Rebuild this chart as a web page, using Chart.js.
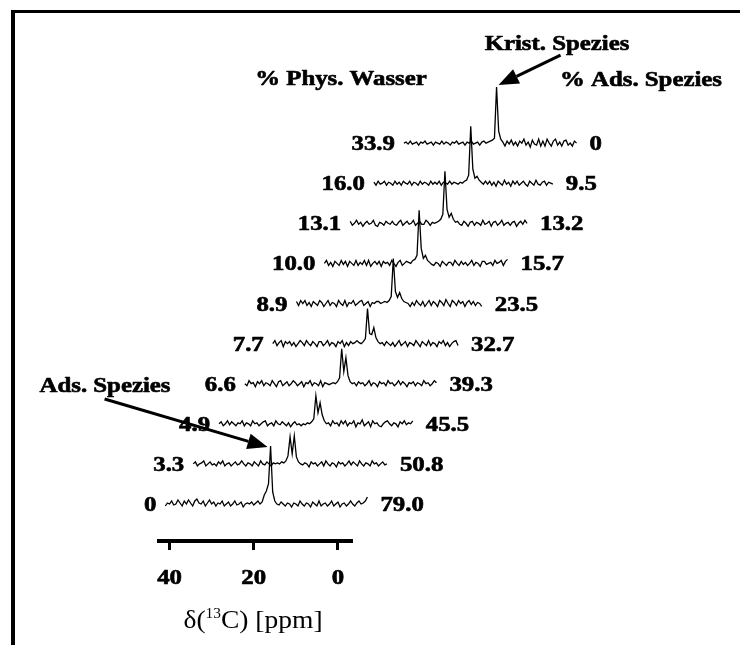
<!DOCTYPE html>
<html>
<head>
<meta charset="utf-8">
<script src="https://cdn.jsdelivr.net/npm/chart.js@4/dist/chart.umd.min.js"></script>
<style>
  html, body { margin: 0; padding: 0; background: #fff; }
  #wrap { position: relative; width: 740px; height: 645px; }
  #frame { position: absolute; left: 11px; top: 10px; right: 0; bottom: 0;
           border-top: 3px solid #000; border-left: 4px solid #000; pointer-events: none; }
</style>
</head>
<body>
<div id="wrap"><canvas id="c"></canvas><div id="frame"></div></div>
<script>
// 13C MAS NMR spectra, stacked from top (most physisorbed water) to bottom.
const waterPct = ['33.9', '16.0', '13.1', '10.0', '8.9', '7.7', '6.6', '4.9', '3.3', '0'];
const adsPct   = ['0', '9.5', '13.2', '15.7', '23.5', '32.7', '39.3', '45.5', '50.8', '79.0'];

// first chemical shift of each spectrum (ppm); points follow every 0.5 ppm towards high field
const startPpm = [39.5, 40.5, 40.0, 40.0, 40.5, 40.0, 40.5, 40.5, 40.5, 41.0];
const PPM_STEP = 0.5;

// intensities (arbitrary units)
const spec_w339 = [0,1,-1,2,-1,0,1,-2,1,0, 2,-1,0,1,-2,1,0,-1,2,-1, 1,0,-2,1,0,2,-1,0,1,-2, 1,0,2,-1,0,1,-2,1,2,0,
  1,2,3,5,56,12,4,1,-3,2,
  -1,3,-2,1,-3,2,0,4,-2,1, -4,3,-1,-2,4,-3,2,-3,4,0, -3,2,4,-2,1,-3,2,3,-2,0, -3,2,0];
const spec_w160 = [1,-2,2,-1,0,2,-2,1,0,-2, 2,-1,1,-2,2,0,-1,2,-2,1, 0,-2,2,-1,1,0,-2,2,-1,1, -1,2,-2,1,0,-1,2,-1,1,0,
  -1,1,0,2,3,8,57,14,5,7,3,1,-1,
  2,-1,2,-2,1,-3,2,0,-2,3, -1,1,-3,2,-1,2,-2,0,2,-1, -3,2,0,-2,3,-1,-2,1,2,-2, 1,0,-1];
const spec_w131 = [2,-2,0,3,-1,1,-3,0,2,-1, 0,3,-2,-3,1,0,-2,2,0,-1, 2,-1,-2,1,3,-2,0,2,-1,0, 3,-2,0,2,-1,-1,3,1,-2,1,
  0,1,2,4,9,52,14,6,10,4,1,2,
  -1,-2,2,0,-3,1,2,-2, 1,0,-2,3,-1,0,2,-3,1,2, -2,0,3,-2,0,1,-2,1,2,-3, 0,2,-1,3,0];
const spec_w100 = [0,3,-2,1,-3,2,0,-2,3,-1, 2,-3,2,0,-2,3,-2,1,-1,3, -2,3,-3,0,2,-1,2,-3,2,0, 1,-2,3,0,-3,1,3,-2,0,2,
  1,0,3,4,8,53,15,5,8,3,1,-1,
  -2,1,0,-3,2,0,-2,1, 1,-2,3,0,-2,2,-1,1,-2,0, 3,-2,1,0,-3,2,2,-1,0,1, -2,3,0,1,3,-2,2,4];
const spec_w89 = [2,-2,3,0,3,-2,1,-3,2,0, -2,3,1,-3,0,3,-2,1,0,-3, 3,0,-2,3,-3,1,0,3,-2,0, 2,3,-2,0,2,-3,1,0,2,2,
  0,1,2,1,3,7,45,12,6,11,5,2,1,
  0,-3,1,-2,3,0,-2, 2,-3,0,3,-2,2,0,-3,3,1, -2,4,0,-3,3,1,-2,3,0,2, -3,1,3,-1,2,-2,1,0,-3];
const spec_w77 = [0,3,-2,1,3,-3,2,0,2,-2, 1,-3,0,3,1,-2,3,0,-2,2, 0,-3,2,2,-2,0,3,-2,1,0, -3,2,0,3,-3,1,-2,2,0,1,
  3,1,0,2,5,35,10,9,16,6,2,0,
  1,-2,2,0,-2,1,-3,0, 3,-2,0,2,-3,1,0,-2,3,0, -3,2,0,-2,3,-2,1,0,-3,2, 0,3,-2,1,-3,0,2,3,-2];
const spec_w66 = [0,-2,3,0,1,-3,2,0,3,-2, 1,0,-2,3,0,-3,2,3,-2,0, 2,-2,0,3,1,-2,0,2,-3,1, 0,3,-2,1,0,-2,3,-3,1,0,
  -1,0,1,0,2,6,35,12,26,8,2,0,1,
  -2,2,0,1,-2,0,3, -2,1,0,-3,2,0,1,-2,3,0, 1,-2,0,3,-1,2,0,-3,1,0, 2,-2,1,0,-2,3,0,1,-2,0,3,1];
const spec_w49 = [0,2,-2,0,3,-1,2,0,-2,1, 0,3,-2,1,0,-2,3,0,1,-2, 0,2,3,-2,0,1,-2,3,0,-1, 2,0,-2,1,-3,0,2,-1,0,-2,
  0,-1,1,0,2,5,28,11,21,9,3,0,1,
  -2,3,0,1,-2,3,0, 3,-2,1,0,3,-3,1,0,4,-2, 0,2,-3,3,0,1,-2,-3,0,2, 3,0,-2,1,0,-3,2,0,3,-1,1,0,3];
const spec_w33 = [0,2,-2,0,1,3,-2,0,2,-1, 0,-2,2,0,3,-2,0,1,-2,0, 2,-1,0,3,0,-2,1,0,-2,2, 0,-2,3,0,-1,2,0,-2,1,0,
  1,0,2,1,3,8,27,10,28,7,2,0,-1,
  1,0,-3,2,0,1,-2, 0,2,-2,3,0,-2,1,0,-3,2, 0,1,-2,0,3,-1,2,0,-2,3, 0,-2,1,0,-2,3,0,1,-2,0,2,-1,0];
const spec_w0 = [-2,1,0,3,-1,0,4,1,-2,3, 0,4,1,-2,3,5,1,0,3,-2, 1,4,0,2,-2,1,0,3,-2,0, 2,-2,0,3,-1,0,2,-3,0,1,
  0,2,-1,1,3,0,2,9,13,20,58,12,3,0,-1,2,
  0,-2,1,0, -3,1,0,-2,3,0,-2,1,0,-3, 2,0,-2,3,-2,0,1,-2,0,3, -2,0,2,-3,0,1,-2,0,3,0, -2,1,3,0,1,3,7];

const spectra = [spec_w339, spec_w160, spec_w131, spec_w100, spec_w89, spec_w77, spec_w66, spec_w49, spec_w33, spec_w0];

// chemical-shift axis
const xTicks = [40, 20, 0];
const xMin = -3.1, xMax = 42.5;

// waterfall offsets per step, counted from the bottom trace
const STACK_DX_PPM = 6.13;
const STACK_DY = 40.1;

const n = spectra.length;
const datasets = spectra.map((vals, t) => {
  const k = n - 1 - t;
  return {
    data: vals.map((v, i) => ({ x: startPpm[t] - i * PPM_STEP - k * STACK_DX_PPM, y: v + k * STACK_DY })),
    borderColor: '#000', borderWidth: 1.3, pointRadius: 0, tension: 0, clip: false, fill: false
  };
});

const SERIF = '"Liberation Serif", "Times New Roman", serif';
const BOLD = 'bold 20px ' + SERIF;
const SX = 1.24;

// horizontally widened text; heavy labels get a thin outline for extra weight
function sText(ctx, txt, x, y, align, font, sx, weight) {
  ctx.save();
  ctx.font = font;
  ctx.textBaseline = 'alphabetic';
  const w = ctx.measureText(txt).width * sx;
  const x0 = align === 'left' ? x : (align === 'right' ? x - w : x - w / 2);
  ctx.translate(x0, y);
  ctx.scale(sx, 1);
  ctx.fillStyle = '#000';
  ctx.textAlign = 'left';
  ctx.fillText(txt, 0, 0);
  if (weight) {
    ctx.strokeStyle = '#000';
    ctx.lineWidth = weight;
    ctx.lineJoin = 'round';
    ctx.strokeText(txt, 0, 0);
  }
  ctx.restore();
}

function arrow(ctx, x1, y1, x2, y2, head, halfW, lw) {
  const a = Math.atan2(y2 - y1, x2 - x1);
  const bx = x2 - head * Math.cos(a), by = y2 - head * Math.sin(a);
  ctx.save();
  ctx.strokeStyle = '#000'; ctx.fillStyle = '#000'; ctx.lineWidth = lw;
  ctx.beginPath(); ctx.moveTo(x1, y1); ctx.lineTo(bx, by); ctx.stroke();
  ctx.beginPath(); ctx.moveTo(x2, y2);
  ctx.lineTo(bx + halfW * Math.sin(a), by - halfW * Math.cos(a));
  ctx.lineTo(bx - halfW * Math.sin(a), by + halfW * Math.cos(a));
  ctx.closePath(); ctx.fill();
  ctx.restore();
}

function peakPixel(chart, t) {
  const pts = chart.data.datasets[t].data;
  let best = pts[0];
  pts.forEach(p => { if (p.y > best.y) best = p; });
  return { x: chart.scales.x.getPixelForValue(best.x), y: chart.scales.y.getPixelForValue(best.y) };
}

const annotations = {
  id: 'annotations',
  afterDraw(chart) {
    const ctx = chart.ctx;
    const xs = chart.scales.x, ys = chart.scales.y;
    const W = 0.6;

    // % labels on both ends of every trace
    datasets.forEach((ds, t) => {
      const first = ds.data[0], last = ds.data[ds.data.length - 1];
      const yb = ys.getPixelForValue((n - 1 - t) * STACK_DY) + 7;
      sText(ctx, waterPct[t], xs.getPixelForValue(first.x) - 9, yb, 'right', BOLD, SX, W);
      sText(ctx, adsPct[t], xs.getPixelForValue(last.x) + 13, yb, 'left', BOLD, SX, W);
    });

    // column headers and species markers
    sText(ctx, '% Phys. Wasser', 341, 85, 'center', BOLD, SX, W);
    sText(ctx, '% Ads. Spezies', 641, 86, 'center', BOLD, SX, W);
    sText(ctx, 'Krist. Spezies', 557, 50, 'center', BOLD, SX, W);
    sText(ctx, 'Ads. Spezies', 105, 392, 'center', BOLD, SX, W);

    const pk = peakPixel(chart, 0);
    arrow(ctx, pk.x + 64, pk.y - 32, pk.x + 2, pk.y - 2, 20, 8, 3);
    const pa = peakPixel(chart, n - 1);
    arrow(ctx, pa.x - 166, pa.y - 47, pa.x - 3, pa.y + 1, 20, 8, 3);

    // tick labels of the shift axis
    xTicks.forEach(v => sText(ctx, String(v), xs.getPixelForValue(v), 584, 'center', BOLD, SX, W));

    // axis title with superscript mass number
    const big = '25px ' + SERIF, small = '14px ' + SERIF;
    const parts = [['δ(', big, 0], ['13', small, -10], ['C) [ppm]', big, 0]];
    const tsx = 1.1;
    let total = 0;
    parts.forEach(p => { ctx.font = p[1]; total += ctx.measureText(p[0]).width * tsx; });
    let x = 253 - total / 2;
    parts.forEach(p => {
      ctx.font = p[1];
      const w = ctx.measureText(p[0]).width * tsx;
      sText(ctx, p[0], x, 628 + p[2], 'left', p[1], tsx, 0);
      x += w;
    });
  }
};

new Chart(document.getElementById('c'), {
  type: 'line',
  data: { datasets },
  options: {
    responsive: true,
    maintainAspectRatio: false,
    animation: false,
    events: [],
    layout: { padding: { left: 159, right: 389, top: 20, bottom: 0 } },
    plugins: { legend: { display: false }, tooltip: { enabled: false }, title: { display: false } },
    scales: {
      x: {
        type: 'linear', reverse: true, min: xMin, max: xMax,
        afterBuildTicks: s => { s.ticks = xTicks.map(v => ({ value: v })); },
        afterFit: s => { s.height = 104; },
        ticks: { display: false },
        grid: { display: true, drawOnChartArea: false, drawTicks: true, tickLength: 9, lineWidth: 3, color: '#000' },
        border: { display: true, width: 4, color: '#000' }
      },
      y: { display: false, min: -37, max: 484 }
    }
  },
  plugins: [annotations]
});
</script>
</body>
</html>
